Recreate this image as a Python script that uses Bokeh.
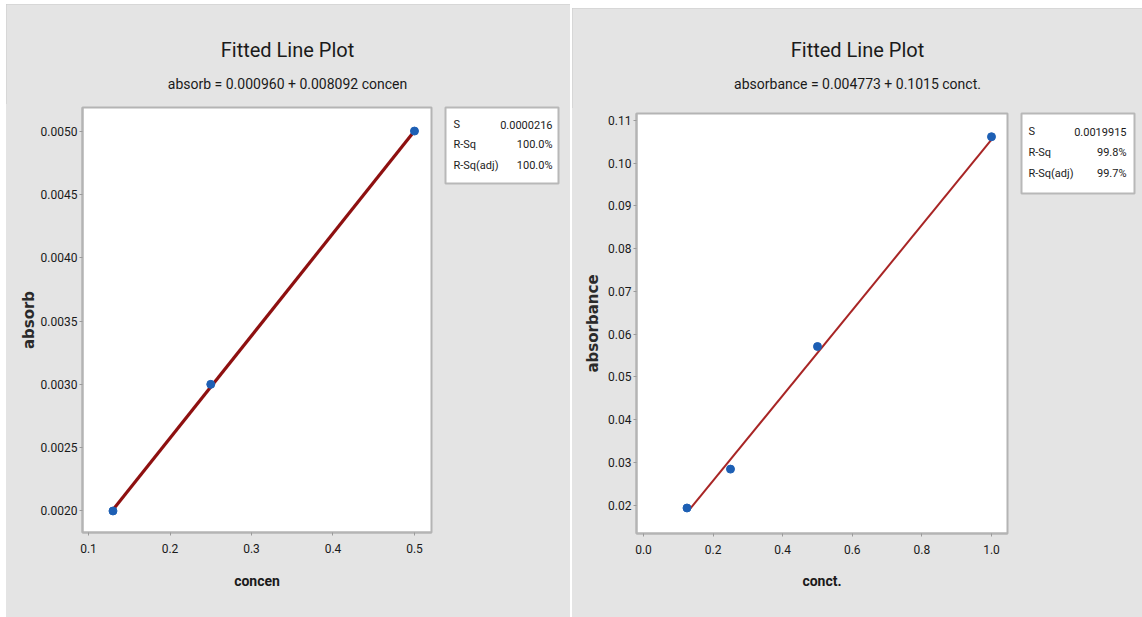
from bokeh.plotting import figure
from bokeh.models import FixedTicker, PrintfTickFormatter, Range1d
from bokeh.layouts import row, column
from bokeh.core.properties import value
from bokeh.embed import file_html
from bokeh.resources import INLINE

# ---------------- data ----------------
left_x = [0.13, 0.25, 0.50]
left_y = [0.0020, 0.0030, 0.0050]
left_fit_x = [0.13, 0.50]
left_fit_y = [0.00201, 0.00500]
left_xticks = [0.1, 0.2, 0.3, 0.4, 0.5]
left_yticks = [0.0020, 0.0025, 0.0030, 0.0035, 0.0040, 0.0045, 0.0050]
left_title = "Fitted Line Plot"
left_subtitle = "absorb = 0.000960 + 0.008092 concen"
left_xlabel = "concen"
left_ylabel = "absorb"
left_stat_names = ["S", "R-Sq", "R-Sq(adj)"]
left_stat_values = ["0.0000216", "100.0%", "100.0%"]

right_x = [0.125, 0.25, 0.50, 1.00]
right_y = [0.0193, 0.0284, 0.0571, 0.1062]
right_fit_x = [0.135, 1.00]
right_fit_y = [0.0192, 0.1055]
right_xticks = [0.0, 0.2, 0.4, 0.6, 0.8, 1.0]
right_yticks = [0.02, 0.03, 0.04, 0.05, 0.06, 0.07, 0.08, 0.09, 0.10, 0.11]
right_title = "Fitted Line Plot"
right_subtitle = "absorbance = 0.004773 + 0.1015 conct."
right_xlabel = "conct."
right_ylabel = "absorbance"
right_stat_names = ["S", "R-Sq", "R-Sq(adj)"]
right_stat_values = ["0.0019915", "99.8%", "99.7%"]

FONT = "Roboto"
PANEL = "#e4e4e4"
TXT = "#1a1a1a"


def bare(w, h, xr, yr, bl=0, br=0, bt=0, bb=0, fw=None, fh=None):
    p = figure(width=w, height=h, output_backend="svg", toolbar_location=None,
               x_range=Range1d(*xr), y_range=Range1d(*yr),
               min_border_left=bl, min_border_right=br, min_border_top=bt, min_border_bottom=bb)
    if fw is not None:
        p.frame_width = fw
        p.frame_height = fh
    p.border_fill_color = PANEL
    p.grid.visible = False
    return p


def title_fig(w, h, cx, ty, sy, title, subtitle):
    p = bare(w, h, (0, w), (h, 0))
    p.axis.visible = False
    p.outline_line_color = None
    p.background_fill_color = PANEL
    p.text(x=[cx], y=[ty], text=[title], text_font=value(FONT), text_font_size="20px",
           text_align="center", text_baseline="middle", text_color=TXT)
    p.text(x=[cx], y=[sy], text=[subtitle], text_font=value(FONT), text_font_size="14px",
           text_align="center", text_baseline="middle", text_color=TXT)
    return p


def stats_fig(w, h, bl, br, bt, fw, fh, names, vals, rows, tl, tr):
    p = bare(w, h, (0, fw), (fh, 0), bl=bl, br=br, bt=bt, bb=h - bt - fh, fw=fw, fh=fh)
    p.axis.visible = False
    p.background_fill_color = "white"
    p.outline_line_color = "#b8b8b8"
    p.outline_line_width = 2
    p.text(x=[tl] * len(names), y=rows, text=names, text_font=value(FONT),
           text_font_size="11px", text_baseline="middle", text_color=TXT)
    p.text(x=[tr] * len(vals), y=rows, text=vals, text_font=value(FONT),
           text_font_size="11px", text_baseline="middle", text_align="right", text_color=TXT)
    return p


def main_fig(c):
    p = bare(c["w"], c["h"], c["xr"], c["yr"], bl=c["bl"], br=c["br"], bt=c["bt"], bb=c["bb"],
             fw=c["fw"], fh=c["fh"])
    p.background_fill_color = "white"
    p.outline_line_color = "#b4b4b4"
    p.outline_line_width = 2
    p.xaxis.ticker = FixedTicker(ticks=c["xticks"])
    p.yaxis.ticker = FixedTicker(ticks=c["yticks"])
    p.xaxis.formatter = PrintfTickFormatter(format=c["xfmt"])
    p.yaxis.formatter = PrintfTickFormatter(format=c["yfmt"])
    for ax in (p.xaxis, p.yaxis):
        ax.minor_tick_line_color = None
        ax.major_tick_in = 0
        ax.major_tick_out = 3
        ax.major_tick_line_color = "#9a9a9a"
        ax.axis_line_color = "#b4b4b4"
        ax.axis_line_width = 2
        ax.major_label_text_font = FONT
        ax.major_label_text_font_size = "12px"
        ax.major_label_text_color = TXT
    p.xaxis.major_label_standoff = 8
    p.yaxis.major_label_standoff = 2
    p.xaxis.axis_label = c["xlabel"]
    p.xaxis.axis_label_text_font = FONT
    p.xaxis.axis_label_text_font_style = "bold"
    p.xaxis.axis_label_text_font_size = "14px"
    p.xaxis.axis_label_text_color = TXT
    p.xaxis.axis_label_standoff = c["xls"]
    p.yaxis.axis_label = c["ylabel"]
    p.yaxis.axis_label_text_font = "DejaVu Sans"
    p.yaxis.axis_label_text_font_style = "bold"
    p.yaxis.axis_label_text_font_size = "15px"
    p.yaxis.axis_label_text_color = "#2a2a2a"
    p.yaxis.axis_label_standoff = c["yls"]
    p.line(c["fx"], c["fy"], line_color=c["lc"], line_width=c["lw"])
    p.scatter(c["x"], c["y"], size=8, fill_color="#1d5fb4", line_color="#1d5fb4")
    return p


PANEL_STYLE = {"background-color": PANEL, "outline": "2px solid #cbcbcb", "outline-offset": "-2px"}

# ---------- left panel ----------
lt = title_fig(564, 100, 281, 45, 79, left_title, left_subtitle)
lm = main_fig(dict(w=427, h=513, xr=(0.0926, 0.5209), yr=(0.00183, 0.005186),
                   bl=76, br=2, bt=3, bb=85, fw=349, fh=425,
                   xticks=left_xticks, yticks=left_yticks, xfmt="%.1f", yfmt="%.4f",
                   xlabel=left_xlabel, ylabel=left_ylabel, xls=17, yls=0,
                   fx=left_fit_x, fy=left_fit_y, x=left_x, y=left_y, lc="#8e1010", lw=3.2))
ls = stats_fig(137, 513, 12, 12, 2, 113, 76, left_stat_names, left_stat_values,
               [17, 37, 58], 8, 107)
left_row = row(lm, ls, spacing=0)
left_row.styles = {"background-color": PANEL}
left_panel = column(lt, left_row, margin=(4, 0, 0, 6), spacing=0)
left_panel.styles = PANEL_STYLE

# ---------- right panel ----------
rt = title_fig(570, 100, 285, 41, 75, right_title, right_subtitle)
rm = main_fig(dict(w=437, h=509, xr=(-0.0201, 1.046), yr=(0.01333, 0.11164),
                   bl=64, br=2, bt=5, bb=84, fw=371, fh=420,
                   xticks=right_xticks, yticks=right_yticks, xfmt="%.1f", yfmt="%.2f",
                   xlabel=right_xlabel, ylabel=right_ylabel, xls=16, yls=3,
                   fx=right_fit_x, fy=right_fit_y, x=right_x, y=right_y, lc="#a82525", lw=2))
rs = stats_fig(133, 509, 12, 8, 4, 113, 80, right_stat_names, right_stat_values,
               [18, 39, 60], 7, 105)
right_row = row(rm, rs, spacing=0)
right_row.styles = {"background-color": PANEL}
right_panel = column(rt, right_row, margin=(8, 0, 0, 2), spacing=0)
right_panel.styles = PANEL_STYLE

layout = row(left_panel, right_panel, spacing=0)
open("out.html", "w").write(file_html(layout, INLINE))
